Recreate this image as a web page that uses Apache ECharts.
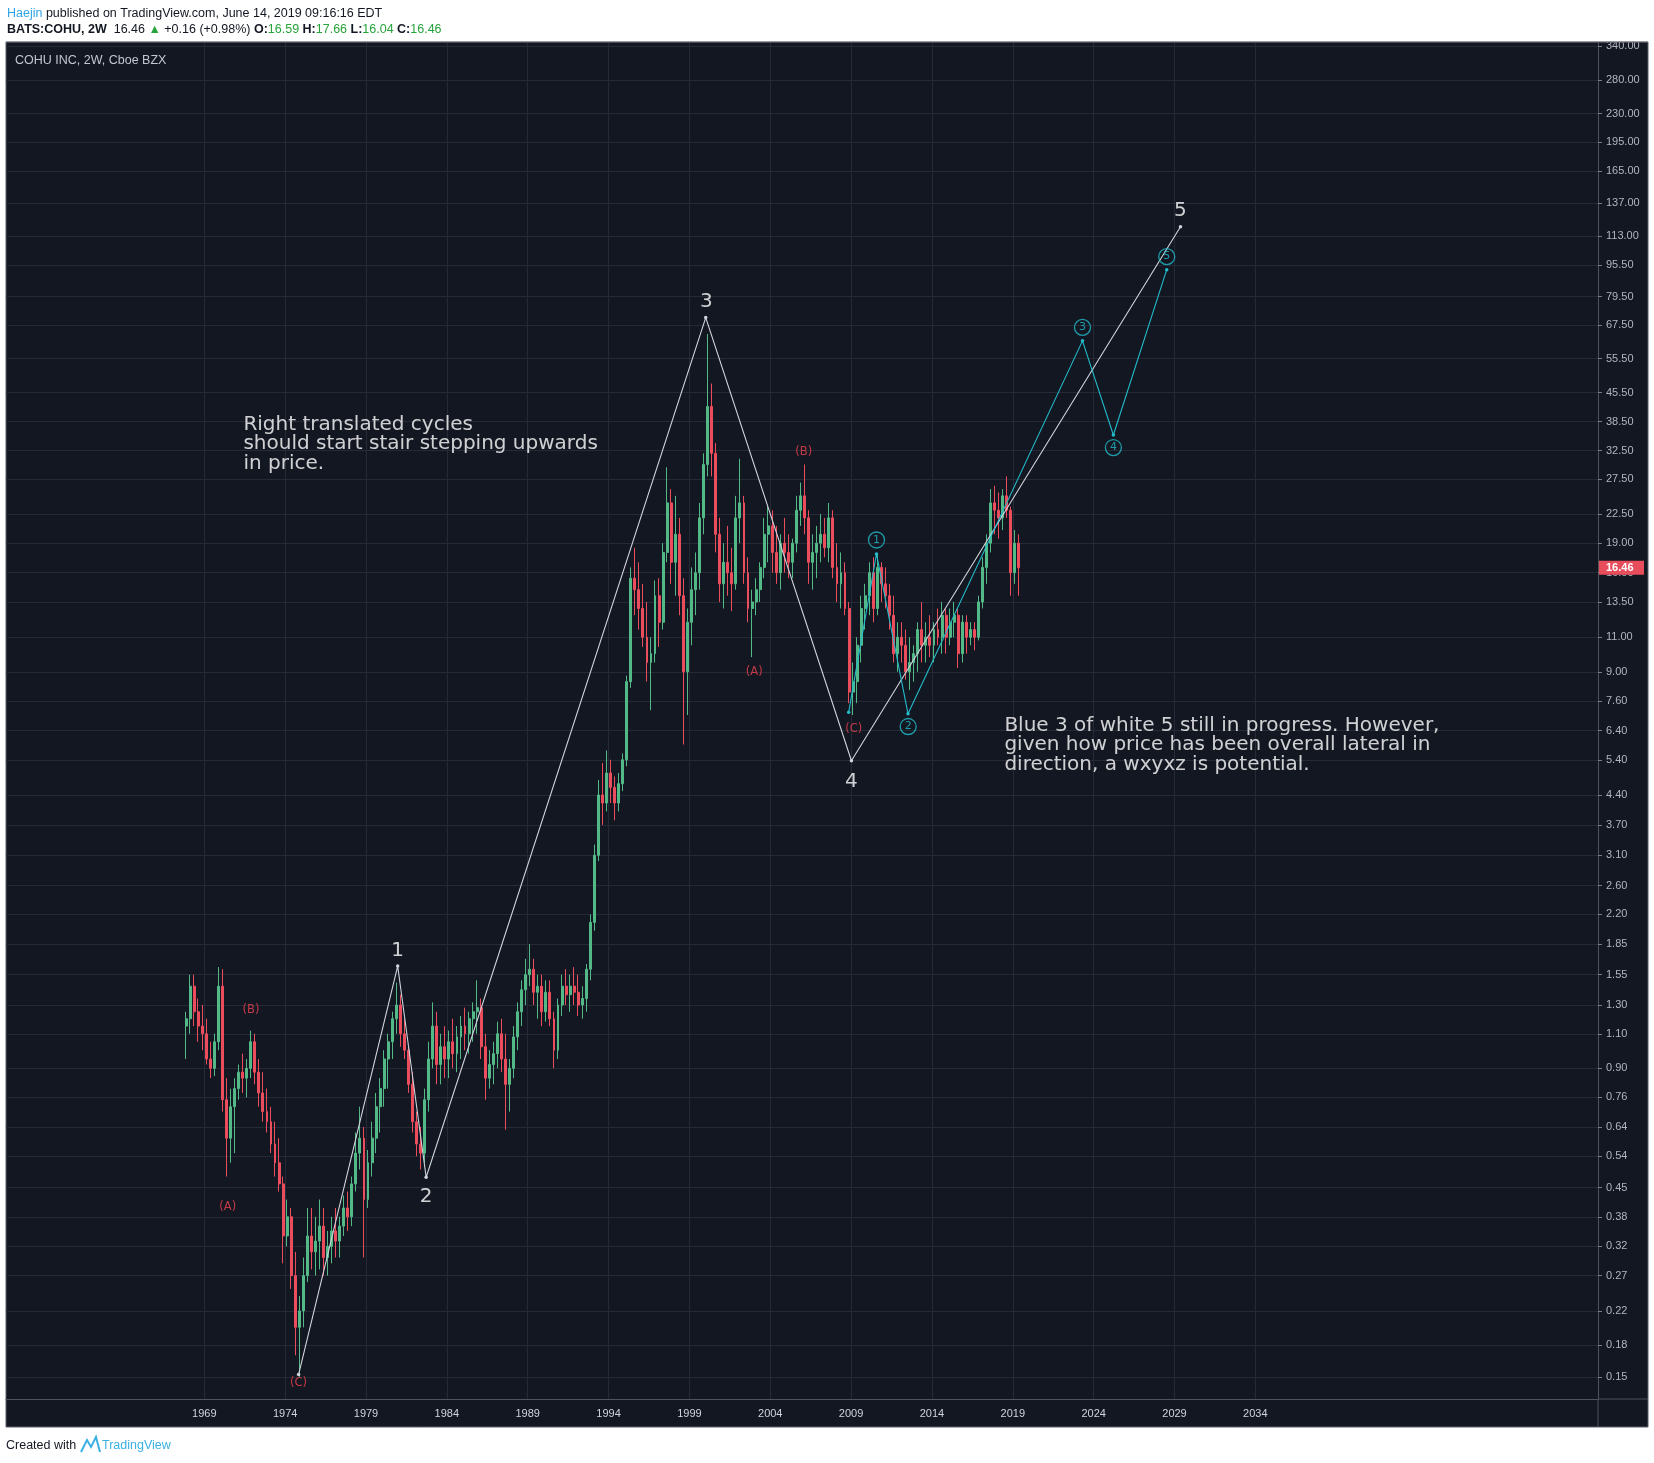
<!DOCTYPE html>
<html><head><meta charset="utf-8">
<script src="https://cdn.jsdelivr.net/npm/echarts@6/dist/echarts.min.js"></script>
<style>html,body{margin:0;padding:0;background:#fff}#c{width:1654px;height:1463px}</style>
</head><body><div id="c"></div>
<script>
// ---------- DATA ----------
// quarterly candles, first one starts at this year fraction
const firstQuarter = 1967.75;
// rows: [open, high, low, close]
const ohlc1960s = [
 [1.15,1.25,0.95,1.20],[1.20,1.55,1.10,1.45],[1.45,1.55,1.15,1.25],[1.25,1.35,1.05,1.15],
 [1.15,1.30,1.00,1.10],[1.10,1.20,0.92,0.95],[0.95,1.05,0.85,0.90],[0.90,1.10,0.86,1.05],
 [1.05,1.62,1.00,1.45]
];
const ohlc1970s = [
 [1.45,1.60,0.70,0.75],[0.75,0.85,0.48,0.60],[0.60,0.80,0.52,0.72],[0.72,0.85,0.55,0.80],
 [0.80,0.92,0.75,0.88],[0.88,0.98,0.78,0.85],[0.85,0.95,0.76,0.90],[0.90,1.12,0.85,1.05],
 [1.05,1.10,0.82,0.88],[0.88,0.95,0.72,0.78],[0.78,0.88,0.66,0.70],[0.70,0.80,0.62,0.66],
 [0.66,0.72,0.55,0.58],[0.58,0.66,0.48,0.52],[0.52,0.60,0.44,0.46],[0.46,0.48,0.29,0.34],
 [0.34,0.42,0.32,0.38],[0.38,0.40,0.25,0.27],[0.27,0.31,0.17,0.20],[0.20,0.24,0.15,0.22],
 [0.22,0.30,0.20,0.27],[0.27,0.40,0.26,0.34],[0.34,0.40,0.28,0.31],[0.31,0.38,0.27,0.33],
 [0.33,0.42,0.28,0.36],[0.36,0.40,0.27,0.30],[0.30,0.35,0.27,0.32],[0.32,0.38,0.29,0.35],
 [0.35,0.40,0.30,0.33],[0.33,0.38,0.30,0.36],[0.36,0.43,0.34,0.40],[0.40,0.44,0.35,0.38],
 [0.38,0.48,0.36,0.46],[0.46,0.62,0.44,0.55],[0.55,0.72,0.50,0.60],[0.60,0.64,0.30,0.42],
 [0.42,0.56,0.40,0.52],[0.52,0.66,0.48,0.60],[0.60,0.78,0.55,0.72],[0.72,0.85,0.62,0.80]
];
const ohlc1980s = [
 [0.80,1.00,0.72,0.95],[0.95,1.10,0.80,1.05],[1.05,1.25,0.95,1.20],[1.20,1.48,1.10,1.30],
 [1.30,1.38,1.02,1.10],[1.10,1.20,0.95,1.00],[1.00,1.02,0.78,0.82],[0.82,0.88,0.62,0.66],
 [0.66,0.70,0.54,0.58],[0.58,0.64,0.50,0.55],[0.55,0.80,0.52,0.75],[0.75,1.05,0.70,0.95],
 [0.95,1.32,0.90,1.15],[1.15,1.25,0.82,0.92],[0.92,1.10,0.82,1.02],[1.02,1.15,0.85,0.95],
 [0.95,1.12,0.85,1.05],[1.05,1.20,0.90,0.98],[0.98,1.15,0.88,1.08],[1.08,1.22,0.95,1.15],
 [1.15,1.28,1.00,1.10],[1.10,1.25,0.98,1.20],[1.20,1.32,1.05,1.25],[1.25,1.50,1.10,1.28],
 [1.28,1.35,0.95,1.02],[1.02,1.10,0.75,0.85],[0.85,1.00,0.80,0.92],[0.92,1.05,0.82,0.98],
 [0.98,1.18,0.90,1.10],[1.10,1.20,0.88,0.95],[0.95,1.10,0.63,0.82],[0.82,0.95,0.70,0.90],
 [0.90,1.15,0.85,1.08],[1.08,1.32,1.00,1.25],[1.25,1.50,1.15,1.42],[1.42,1.70,1.30,1.55],
 [1.55,1.85,1.45,1.60],[1.60,1.70,1.30,1.40],[1.40,1.55,1.20,1.45],[1.45,1.55,1.15,1.25]
];
const ohlc1990s = [
 [1.25,1.50,1.18,1.40],[1.40,1.50,1.15,1.20],[1.20,1.25,0.90,1.00],[1.00,1.35,0.95,1.30],
 [1.30,1.55,1.22,1.45],[1.45,1.60,1.30,1.38],[1.38,1.55,1.25,1.45],[1.45,1.62,1.30,1.40],
 [1.40,1.55,1.22,1.30],[1.30,1.45,1.20,1.35],[1.35,1.65,1.25,1.60],[1.60,2.20,1.50,2.10],
 [2.10,3.30,2.00,3.10],[3.10,4.80,3.00,4.40],[4.40,5.30,3.70,4.20],[4.20,5.70,4.00,5.00],
 [5.00,5.40,4.20,4.60],[4.60,4.90,3.80,4.20],[4.20,5.00,4.00,4.70],[4.70,5.60,4.50,5.40],
 [5.40,8.80,5.20,8.50],[8.50,16.5,8.20,15.5],[15.5,18.5,12.5,14.5],[14.5,17.0,11.5,13.0],
 [13.0,15.0,10.4,11.0],[11.0,13.5,8.5,9.5],[9.5,11.0,7.2,10.0],[10.0,15.3,9.5,14.0],
 [14.0,15.5,10.4,12.0],[12.0,19.0,11.5,18.0],[18.0,29.5,17.0,24.0],[24.0,26.0,15.0,17.0],
 [17.0,25.0,14.0,20.0],[20.0,22.0,12.5,14.0],[14.0,15.5,5.9,9.0],[9.0,13.0,7.0,12.0],
 [12.0,16.5,10.5,14.5],[14.5,18.0,12.5,16.0],[16.0,24.0,14.5,22.0],[22.0,32.0,20.0,30.0]
];
const ohlc2000s = [
 [30.0,64.0,28.0,42.0],[42.0,48.0,28.0,32.0],[32.0,34.0,18.0,20.0],[20.0,22.0,13.5,15.0],
 [15.0,19.0,13.0,17.0],[17.0,21.0,14.0,16.0],[16.0,18.5,12.8,15.0],[15.0,25.0,14.5,22.0],
 [22.0,31.0,19.0,24.0],[24.0,25.0,15.0,16.0],[16.0,17.5,12.0,13.0],[13.0,14.5,9.8,13.5],
 [13.5,15.5,12.5,14.5],[14.5,17.0,13.5,16.5],[16.5,22.0,15.5,20.0],[20.0,23.5,17.0,21.0],
 [21.0,23.0,16.0,18.0],[18.0,21.0,15.0,16.0],[16.0,20.0,14.5,19.0],[19.0,22.0,16.0,18.0],
 [18.0,20.0,15.5,17.0],[17.0,19.5,15.5,19.0],[19.0,25.0,18.0,23.0],[23.0,27.0,21.0,25.0],
 [25.0,30.0,20.0,22.0],[22.0,23.0,15.0,17.0],[17.0,20.0,14.5,18.0],[18.0,21.0,15.5,19.0],
 [19.0,22.5,17.0,20.0],[20.0,22.0,17.5,18.5],[18.5,24.0,17.0,22.0],[22.0,23.0,15.5,16.5],
 [16.5,19.0,13.5,15.0],[15.0,18.0,13.0,16.0],[16.0,17.0,12.5,13.0],[13.0,13.5,7.5,8.0],
 [8.0,9.5,7.0,8.5],[8.5,11.0,7.5,10.5],[10.5,14.0,9.5,13.0],[13.0,15.0,11.5,14.0]
];
const ohlc2010s = [
 [14.0,17.0,12.5,16.0],[16.0,17.5,12.0,13.0],[13.0,17.8,12.5,16.5],[16.5,17.0,13.5,15.0],
 [15.0,16.5,13.0,14.0],[14.0,15.0,11.5,12.5],[12.5,14.0,9.5,10.0],[10.0,12.0,9.0,11.0],
 [11.0,12.0,9.5,10.5],[10.5,11.5,8.6,9.0],[9.0,11.0,8.1,9.5],[9.5,10.5,8.5,10.0],
 [10.0,12.0,9.0,11.5],[11.5,13.5,9.5,10.5],[10.5,12.0,9.5,11.0],[11.0,12.5,9.8,10.5],
 [10.5,12.0,9.5,11.5],[11.5,13.0,10.5,11.0],[11.0,13.5,10.0,12.5],[12.5,13.0,10.0,11.0],
 [11.0,13.0,10.5,12.0],[12.0,13.5,11.0,12.5],[12.5,13.0,9.2,10.0],[10.0,12.5,9.5,12.0],
 [12.0,12.5,10.0,11.0],[11.0,12.0,10.5,11.5],[11.5,12.0,10.2,11.0],[11.0,14.0,10.8,13.5],
 [13.5,17.5,13.0,16.5],[16.5,20.0,15.0,19.0],[19.0,26.0,18.0,24.0],[24.0,26.5,20.0,23.0],
 [23.0,25.5,19.5,22.0],[22.0,26.0,20.5,25.0],[25.0,28.0,22.0,23.0],[23.0,23.5,14.0,16.0],
 [16.0,20.5,15.0,19.0],[19.0,20.0,14.0,16.46]
];
const priceTicks = [340,280,230,195,165,137,113,95.5,79.5,67.5,55.5,45.5,38.5,32.5,27.5,22.5,19,16,13.5,11,9,7.6,6.4,5.4,4.4,3.7,3.1,2.6,2.2,1.85,1.55,1.3,1.1,0.9,0.76,0.64,0.54,0.45,0.38,0.32,0.27,0.22,0.18,0.15];
const yearTicks = [1969,1974,1979,1984,1989,1994,1999,2004,2009,2014,2019,2024,2029,2034];
// white Elliott wave path [year, price]
const waveLine = [[1974.83,0.152],[1980.96,1.63],[1982.72,0.478],[2000.01,70.4],[2009.02,5.37],[2029.37,119.3]];
const waveLabels = [['1',1980.96,1.78],['2',1982.72,0.428],['3',2000.05,77.2],['4',2009.02,4.76],['5',2029.37,131]];
// red (A)(B)(C) labels
const abcLabels = [['(A)',1970.45,0.403],['(B)',1971.89,1.26],['(C)',1974.83,0.145],['(A)',2003.01,8.99],['(B)',2006.07,32.2],['(C)',2009.16,6.45]];
// cyan sub-wave path and circled labels
const blueLine = [[2008.85,7.12],[2010.57,17.85],[2012.52,7.05],[2023.31,61.5],[2025.22,35.6],[2028.52,93.0]];
const blueLabels = [['1',2010.57,19.35],['2',2012.53,6.55],['3',2023.31,66.5],['4',2025.22,33.1],['5',2028.52,100.3]];
// text notes [text, year (left), price (top)]
const notes = [
 ['Right translated cycles\nshould start stair stepping upwards\nin price.',1971.45,39.9],
 ['Blue 3 of white 5 still in progress. However,\ngiven how price has been overall lateral in\ndirection, a wxyxz is potential.',2018.51,6.96]
];
const lastPrice = 16.46;

// ---------- BUILD ----------
const L = Math.log;
const allRows = [].concat(ohlc1960s, ohlc1970s, ohlc1980s, ohlc1990s, ohlc2000s, ohlc2010s);
const candles = allRows.map((r, i) => [firstQuarter + i * 0.25 + 0.125, L(r[0]), L(r[3]), L(r[2]), L(r[1])]);

const chart = echarts.init(document.getElementById('c'), null, {renderer: 'canvas'});
const GL = 6, GR = 56, GT = 43, GB = 64, W = 1654, H = 1463;
const pxPerYear = 16.17, year0px = 204.3;
const xMin = 1969 - (year0px - GL) / pxPerYear;
const xMax = xMin + (W - GL - GR) / pxPerYear;
const yMax = L(346.8), yMin = L(0.1319);

const FONT_UI = "'Liberation Sans', Roboto, sans-serif";
const FONT_NOTE = "'DejaVu Sans', Verdana, sans-serif";
const CYAN = '#22bccb';

chart.setOption({
  backgroundColor: '#ffffff',
  animation: false,
  grid: {left: GL, right: GR, top: GT, bottom: GB, outerBoundsMode: 'none', containLabel: false},
  xAxis: {
    type: 'value', min: xMin, max: xMax,
    axisLine: {show: true, onZero: false, lineStyle: {color: '#50535e', width: 1}},
    axisTick: {show: false, customValues: yearTicks},
    axisLabel: {customValues: yearTicks, formatter: v => String(Math.round(v)), color: '#d1d4dc', fontSize: 11, fontFamily: FONT_UI, margin: 9},
    splitLine: {show: true, lineStyle: {color: '#262a36', width: 1}}
  },
  yAxis: {
    type: 'value', position: 'right', min: yMin, max: yMax, scale: true,
    axisLine: {show: true, onZero: false, lineStyle: {color: '#50535e', width: 1}},
    axisTick: {show: true, customValues: priceTicks.map(L), length: 4, lineStyle: {color: '#787b86'}},
    axisLabel: {customValues: priceTicks.map(L), formatter: v => Math.exp(v).toFixed(2), color: '#b2b5be', fontSize: 11, fontFamily: FONT_UI, margin: 8},
    splitLine: {show: true, lineStyle: {color: '#262a36', width: 1}}
  },
  series: [
    {
      type: 'candlestick', data: candles, encode: {x: 0, y: [1, 2, 3, 4]},
      barWidth: 2.4, z: 2,
      itemStyle: {color: '#53b987', color0: '#eb4d5c', borderColor: '#53b987', borderColor0: '#eb4d5c', borderWidth: 1}
    },
    {
      type: 'line', data: waveLine.map(p => [p[0], L(p[1])]), z: 5,
      symbol: 'circle', symbolSize: 3.5, showSymbol: true,
      lineStyle: {color: '#d1d4dc', width: 1.1}, itemStyle: {color: '#d1d4dc'}
    },
    {
      type: 'line', data: blueLine.map(p => [p[0], L(p[1])]), z: 5,
      symbol: 'circle', symbolSize: 3.5, showSymbol: true,
      lineStyle: {color: CYAN, width: 1.1}, itemStyle: {color: CYAN}
    },
    {
      type: 'scatter', z: 6, symbolSize: 1, itemStyle: {color: 'rgba(0,0,0,0)'},
      data: waveLabels.map(d => ({name: d[0], value: [d[1], L(d[2])]})),
      label: {show: true, position: 'inside', formatter: '{b}', color: '#ffffff', fontSize: 20, fontFamily: FONT_NOTE}
    },
    {
      type: 'scatter', z: 6, symbolSize: 1, itemStyle: {color: 'rgba(0,0,0,0)'},
      data: abcLabels.map(d => ({name: d[0], value: [d[1], L(d[2])]})),
      label: {show: true, position: 'inside', formatter: '{b}', color: '#f0424f', fontSize: 11.5, fontFamily: FONT_NOTE}
    },
    {
      type: 'scatter', z: 6, symbol: 'circle', symbolSize: 16,
      itemStyle: {color: 'rgba(19,23,34,0.0)', borderColor: CYAN, borderWidth: 1.3},
      data: blueLabels.map(d => ({name: d[0], value: [d[1], L(d[2])]})),
      label: {show: true, position: 'inside', formatter: '{b}', color: CYAN, fontSize: 11, fontFamily: FONT_NOTE}
    },
    {
      type: 'scatter', z: 7, symbolSize: 1, itemStyle: {color: 'rgba(0,0,0,0)'},
      data: notes.map(d => ({name: d[0], value: [d[1], L(d[2])]})),
      label: {show: true, position: [0, 0], align: 'left', verticalAlign: 'top', formatter: '{b}', color: '#ffffff', fontSize: 20, lineHeight: 19.5, fontFamily: FONT_NOTE}
    }
  ]
});

// decorations and last-price marker (positioned through the axis scale)
const yLast = chart.convertToPixel({yAxisIndex: 0}, L(lastPrice));
const xR = W - GR, yB = H - GB;
const HF = "12.5px " + FONT_UI, HFB = "bold 12.5px " + FONT_UI;
chart.setOption({
  graphic: [
    {type: 'rect', z: -1, shape: {x: GL, y: 42, width: 1648 - GL, height: 1427 - 42}, style: {fill: '#131722', stroke: '#5d606b', lineWidth: 1}},
    {type: 'rect', z: 50, shape: {x: 0, y: 0, width: W, height: 41.5}, style: {fill: '#ffffff'}},
    {type: 'line', z: 50, shape: {x1: GL, y1: 42, x2: 1648, y2: 42}, style: {stroke: '#5d606b', lineWidth: 1}},
    {type: 'line', z: 50, shape: {x1: xR, y1: yB, x2: xR, y2: 1427}, style: {stroke: '#50535e', lineWidth: 1}},
    {type: 'line', z: 50, shape: {x1: xR, y1: yB, x2: 1648, y2: yB}, style: {stroke: '#50535e', lineWidth: 1}},
    {type: 'rect', z: 50, shape: {x: xR + 1, y: yLast - 7, width: 45, height: 14}, style: {fill: '#e84d5b'}},
    {type: 'text', z: 51, x: xR + 8, y: yLast, style: {text: lastPrice.toFixed(2), fill: '#ffffff', font: "bold 11px " + FONT_UI, verticalAlign: 'middle'}},
    {type: 'text', z: 51, x: 15, y: 61, style: {text: 'COHU INC, 2W, Cboe BZX', fill: '#c3c6ce', font: "12.5px " + FONT_UI, verticalAlign: 'middle'}},
    {type: 'text', z: 51, x: 7, y: 13.5, style: {
      text: '{a|Haejin}{b| published on TradingView.com, June 14, 2019 09:16:16 EDT}',
      verticalAlign: 'middle',
      rich: {a: {fill: '#2fa4e7', font: HF}, b: {fill: '#131722', font: HF}}
    }},
    {type: 'text', z: 51, x: 7, y: 30, style: {
      text: '{k|BATS:COHU, 2W}{n|  16.46 }{g|▲}{n| +0.16 (+0.98%) }{k|O:}{g|16.59}{k| H:}{g|17.66}{k| L:}{g|16.04}{k| C:}{g|16.46}',
      verticalAlign: 'middle',
      rich: {k: {fill: '#131722', font: HFB}, n: {fill: '#131722', font: HF}, g: {fill: '#26a33a', font: HF}}
    }},
    {type: 'text', z: 51, x: 6, y: 1446, style: {text: 'Created with', fill: '#131722', font: "12.5px " + FONT_UI, verticalAlign: 'middle'}},
    {type: 'polyline', z: 51, shape: {points: [[81, 1452], [87, 1440], [91, 1447], [96, 1437], [100, 1452]]}, style: {stroke: '#3ab0e2', lineWidth: 2, fill: null}},
    {type: 'text', z: 51, x: 102, y: 1446, style: {text: 'TradingView', fill: '#3ab0e2', font: "12.5px " + FONT_UI, verticalAlign: 'middle'}}
  ]
});
</script>
</body></html>
